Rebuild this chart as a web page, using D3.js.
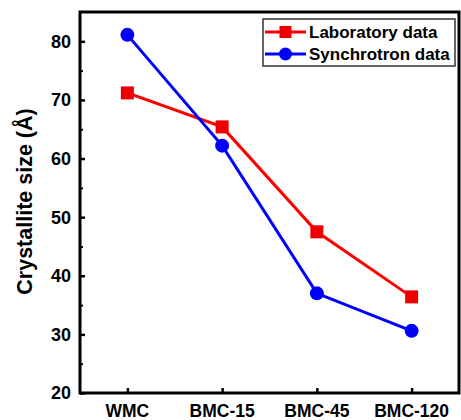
<!DOCTYPE html>
<html>
<head>
<meta charset="utf-8">
<script src="https://cdn.jsdelivr.net/npm/d3@7"></script>
<style>
  html, body { margin: 0; padding: 0; background: #fff; }
  svg { display: block; font-family: Arial, "Liberation Sans", sans-serif; }
</style>
</head>
<body>
<svg id="chart" width="461" height="420"></svg>
<script>
(function() {
    'use strict';

    // Data
    const categories = ['WMC', 'BMC-15', 'BMC-45', 'BMC-120'];
    const labData = [71.2, 65.4, 47.5, 36.4];
    const syncData = [81.1, 62.2, 37.0, 30.6];
    const yTicks = [20, 30, 40, 50, 60, 70, 80];
    const seriesNames = ['Laboratory data', 'Synchrotron data'];

    // Layout
    const margin = { top: 12, right: 2, bottom: 27, left: 80 };
    const width = 461, height = 420;
    const svg = d3.select('#chart');

    const x = d3.scalePoint()
        .domain(categories)
        .range([margin.left, width - margin.right])
        .padding(0.5);

    const y = d3.scaleLinear()
        .domain([20, 85])
        .range([height - margin.bottom, margin.top]);

    const plot = svg.append('g');

    // Frame
    plot.append('rect')
        .attr('x', margin.left)
        .attr('y', margin.top)
        .attr('width', width - margin.right - margin.left)
        .attr('height', height - margin.bottom - margin.top)
        .attr('fill', 'none')
        .attr('stroke', '#000')
        .attr('stroke-width', 3);

    // Y axis (ticks inward)
    const yAxis = plot.append('g')
        .attr('transform', `translate(${margin.left},0)`)
        .call(d3.axisRight(y).tickValues(yTicks).tickSize(5).tickFormat(() => ''));
    yAxis.select('.domain').remove();
    yAxis.selectAll('line').attr('stroke-width', 2.5);

    // minor ticks
    plot.append('g')
        .attr('transform', `translate(${margin.left},0)`)
        .call(d3.axisRight(y).tickValues([25, 35, 45, 55, 65, 75]).tickSize(3).tickFormat(() => ''))
        .call(g => g.select('.domain').remove())
        .selectAll('line').attr('stroke-width', 2);

    plot.selectAll('.ylab')
        .data(yTicks)
        .join('text')
        .attr('class', 'ylab')
        .attr('x', margin.left - 9)
        .attr('y', d => y(d))
        .attr('dy', '0.36em')
        .attr('text-anchor', 'end')
        .attr('font-size', 18)
        .attr('font-weight', 'bold')
        .text(d => d);

    // X axis (ticks inward)
    const xAxis = plot.append('g')
        .attr('transform', `translate(0,${height - margin.bottom})`)
        .call(d3.axisTop(x).tickSize(5).tickFormat(() => ''));
    xAxis.select('.domain').remove();
    xAxis.selectAll('line').attr('stroke-width', 2.5);

    plot.selectAll('.xlab')
        .data(categories)
        .join('text')
        .attr('class', 'xlab')
        .attr('x', d => x(d))
        .attr('y', height - 3)
        .attr('text-anchor', 'middle')
        .attr('font-size', 17.5)
        .attr('font-weight', 'bold')
        .text(d => d);

    // Y title
    svg.append('text')
        .attr('transform', `translate(32,${(margin.top + height - margin.bottom) / 2 - 1}) rotate(-90)`)
        .attr('text-anchor', 'middle')
        .attr('font-size', 21.5)
        .attr('font-weight', 'bold')
        .text('Crystallite size (Å)');

    // Series
    const line = d3.line()
        .x((d, i) => x(categories[i]))
        .y(d => y(d));

    plot.append('path')
        .datum(labData)
        .attr('fill', 'none')
        .attr('stroke', '#ff0000')
        .attr('stroke-width', 3)
        .attr('d', line);

    plot.append('path')
        .datum(syncData)
        .attr('fill', 'none')
        .attr('stroke', '#0000ff')
        .attr('stroke-width', 3)
        .attr('d', line);

    plot.selectAll('.sq')
        .data(labData)
        .join('rect')
        .attr('class', 'sq')
        .attr('x', (d, i) => x(categories[i]) - 6.5)
        .attr('y', d => y(d) - 6.5)
        .attr('width', 13)
        .attr('height', 13)
        .attr('fill', '#ee0000');

    plot.selectAll('.dot')
        .data(syncData)
        .join('circle')
        .attr('class', 'dot')
        .attr('cx', (d, i) => x(categories[i]))
        .attr('cy', d => y(d))
        .attr('r', 7)
        .attr('fill', '#0000ff');

    // Legend
    const legend = svg.append('g').attr('transform', 'translate(263,19)');
    legend.append('rect')
        .attr('width', 192)
        .attr('height', 47)
        .attr('fill', '#fff')
        .attr('stroke', '#333')
        .attr('stroke-width', 1.5);

    const colors = ['#ff0000', '#0000ff'];
    seriesNames.forEach((name, i) => {
        const row = legend.append('g').attr('transform', `translate(0,${13 + i * 22})`);
        row.append('line')
            .attr('x1', 2).attr('x2', 43)
            .attr('stroke', colors[i])
            .attr('stroke-width', 3);
        if (i === 0) {
            row.append('rect')
                .attr('x', 16.5).attr('y', -6).attr('width', 12).attr('height', 12)
                .attr('fill', '#ee0000');
        } else {
            row.append('circle')
                .attr('cx', 22.5).attr('r', 6.5)
                .attr('fill', '#0000ff');
        }
        row.append('text')
            .attr('x', 46)
            .attr('dy', '0.36em')
            .attr('font-size', 17)
            .attr('font-weight', 'bold')
            .text(name);
    });
})();
</script>
</body>
</html>
